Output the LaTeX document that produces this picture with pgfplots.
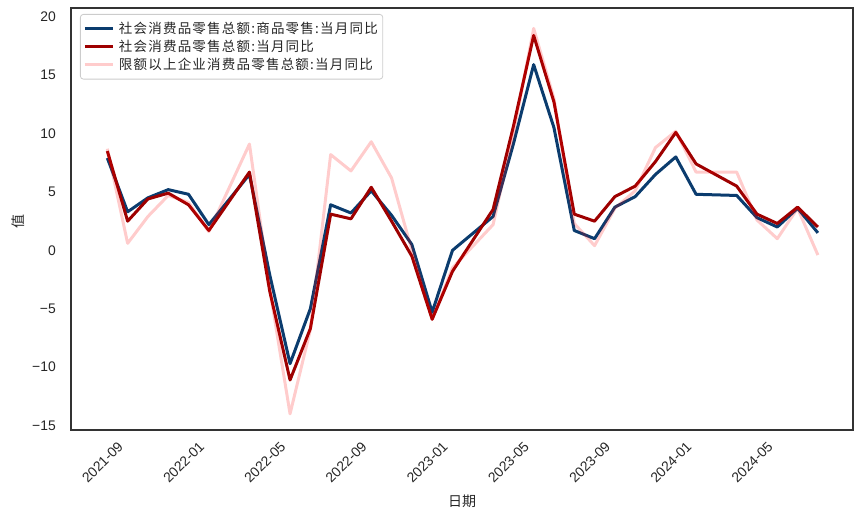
\documentclass[border=0pt]{standalone}
\usepackage{fontspec}
\setmainfont{Liberation Sans}
\newfontfamily\cjk{Noto Sans CJK SC}
\newfontfamily\cjklegend[LetterSpace=9]{Noto Sans CJK SC}
\usepackage{pgfplots}
\pgfplotsset{compat=1.18}

\definecolor{navyline}{HTML}{0B3C6E}
\definecolor{redline}{HTML}{9E0000}
\definecolor{spine}{HTML}{333333}
\definecolor{ticktext}{HTML}{262626}

% x: months after 2021-09 (month-end dates; January folded into February)
\pgfplotstableread{
x    y
-1   7.9
0    3.3
1    4.5
2    5.2
3    4.8
4    2.2
6    6.5
7   -2.1
8   -9.7
9   -5.0
10   3.9
11   3.2
12   5.1
13   3.0
14   0.5
15  -5.3
16   0.0
18   2.9
19   9.1
20  15.9
21  10.5
22   1.7
23   1.0
24   3.7
25   4.6
26   6.5
27   8.0
28   4.8
30   4.7
31   2.8
32   2.0
33   3.6
34   1.5
}\goods

\pgfplotstableread{
x    y
-1   8.5
0    2.5
1    4.4
2    4.9
3    3.9
4    1.7
6    6.7
7   -3.5
8  -11.1
9   -6.7
10   3.1
11   2.7
12   5.4
13   2.5
14  -0.5
15  -5.9
16  -1.8
18   3.5
19  10.6
20  18.4
21  12.7
22   3.1
23   2.5
24   4.6
25   5.5
26   7.6
27  10.1
28   7.4
30   5.5
31   3.1
32   2.3
33   3.7
34   2.0
}\total

\pgfplotstableread{
x    y
-1   8.7
0    0.6
1    2.9
2    4.7
3    4.1
4    1.6
6    9.1
7   -3.3
8  -14.0
9   -6.8
10   8.2
11   6.8
12   9.3
13   6.2
14   0.0
15  -5.9
16  -1.5
18   2.2
19  10.0
20  19.0
21  13.0
22   2.3
23   0.4
24   3.6
25   5.1
26   8.8
27  10.2
28   6.7
30   6.7
31   2.6
32   1.0
33   3.6
34  -0.4
}\abovesize

\begin{document}
\begin{tikzpicture}
\useasboundingbox (-71pt,-89pt) rectangle (793pt,430pt);
\begin{axis}[
	at={(0pt,0pt)}, anchor=south west,
	scale only axis,
	width=782pt, height=422pt,
	xmin=-2.79, xmax=35.73,
	ymin=-15.38, ymax=20.75,
	axis line style={color=spine, line width=1.25pt},
	major tick length=0pt,
	xtick={0,4,...,32},
	xticklabels={2021-09,2022-01,2022-05,2022-09,2023-01,2023-05,2023-09,2024-01,2024-05},
	ytick={-15,-10,...,20},
	yticklabels={−15,−10,−5,0,5,10,15,20},
	tick label style={font=\fontsize{13.9}{16}\selectfont, text=ticktext},
	xticklabel style={rotate=45, anchor=north east, inner sep=0pt, xshift=-15pt, yshift=0pt},
	yticklabel style={anchor=east, inner sep=0pt, xshift=-15pt},
	xlabel={\cjk 日期},
	ylabel={\cjk 值},
	label style={font=\fontsize{14}{16}\selectfont, text=ticktext},
	xlabel style={at={(axis description cs:0.5,-0.168)}, anchor=center},
	ylabel style={at={(axis description cs:-0.0678,0.4929)}, anchor=center},
	legend style={at={(axis description cs:0.0115,0.9858)}, anchor=north west,
		draw=black!20, rounded corners=3pt, line width=0.8pt,
		fill=white, fill opacity=0.8, text opacity=1, text=ticktext,
		font=\cjklegend\fontsize{13.5}{15}\selectfont,
		inner xsep=3pt, inner ysep=6pt, row sep=1pt,
		legend cell align=left},
	legend image code/.code={\draw[#1] (0pt,0pt) -- (28pt,0pt); \path (30.5pt,0pt);},
	every axis plot/.append style={line width=3pt, line join=round},
]
\addplot[color=navyline] table[x=x, y=y] {\goods};
\addlegendentry{社会消费品零售总额:商品零售:当月同比}
\addplot[color=redline] table[x=x, y=y] {\total};
\addlegendentry{社会消费品零售总额:当月同比}
\addplot[color=red, draw opacity=0.2] table[x=x, y=y] {\abovesize};
\addlegendentry{限额以上企业消费品零售总额:当月同比}
\end{axis}
\end{tikzpicture}
\end{document}
